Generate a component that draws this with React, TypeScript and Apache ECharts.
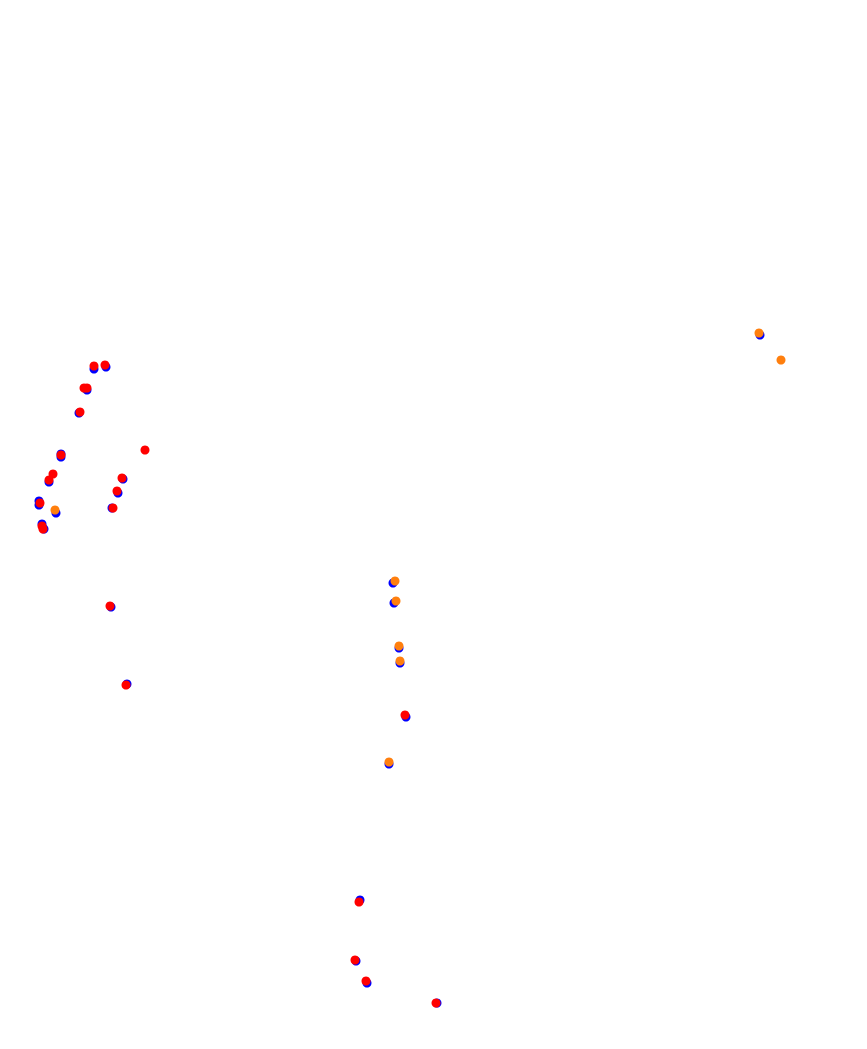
import React, { useEffect, useRef } from "react";
import * as echarts from "echarts";

// Point positions (x, y), in plot units
const bluePoints: [number, number][] = [
  [94, 369], [106, 367], [87, 390], [79, 413], [61, 454], [61, 457],
  [49, 482], [123, 479], [118, 493], [112, 508], [39, 501], [39, 505],
  [56, 513], [42, 524], [44, 529], [111, 607], [127, 684],
  [393, 583], [394, 603], [399, 648], [400, 663], [406, 717], [389, 764],
  [760, 335], [360, 900], [356, 961], [367, 983], [437, 1003],
];
const orangePoints: [number, number][] = [
  [55, 510], [395, 581], [396, 601], [399, 646], [400, 661], [389, 762],
  [759, 333], [781, 360],
];
const redPoints: [number, number][] = [
  [94, 366], [105, 365], [84, 388], [87, 388], [80, 412], [61, 455],
  [145, 450], [53, 474], [49, 480], [122, 478], [117, 491], [113, 508],
  [40, 503], [42, 526], [43, 529], [110, 606], [126, 685], [405, 715],
  [359, 902], [355, 960], [366, 981], [436, 1003],
];

const X_MAX = 867;
const Y_MAX = 1049;

export default function App() {
  const ref = useRef<HTMLDivElement>(null);
  useEffect(() => {
    if (!ref.current) return;
    const chart = echarts.init(ref.current, undefined, { renderer: "svg" });
    const mk = (name: string, data: [number, number][], color: string) => ({
      name,
      type: "scatter" as const,
      data,
      symbolSize: 9,
      itemStyle: { color, opacity: 1 },
      emphasis: { disabled: true },
    });
    chart.setOption({
      animation: false,
      backgroundColor: "#ffffff",
      grid: { left: 0, right: 0, top: 0, bottom: 0 },
      xAxis: { type: "value", min: 0, max: X_MAX, show: false },
      yAxis: { type: "value", min: 0, max: Y_MAX, inverse: true, show: false },
      series: [
        mk("blue", bluePoints, "#0000ff"),
        mk("orange", orangePoints, "#ff7f0e"),
        mk("red", redPoints, "#ff0000"),
      ],
    });
    return () => chart.dispose();
  }, []);
  return (
    <div
      ref={ref}
      style={{ position: "fixed", left: 0, top: 0, width: X_MAX, height: Y_MAX }}
    />
  );
}
